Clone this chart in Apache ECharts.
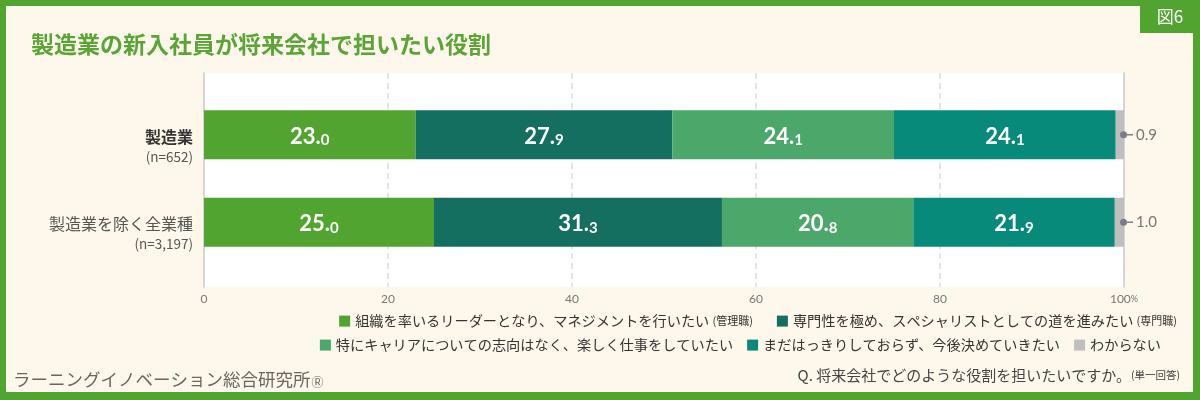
<!DOCTYPE html>
<html>
<head>
<meta charset="utf-8">
<script src="https://cdn.jsdelivr.net/npm/echarts@6/dist/echarts.min.js"></script>
<style>
html,body{margin:0;padding:0;background:#52a431;}
#chart{width:1200px;height:400px;}
</style>
</head>
<body>
<div id="chart"></div>
<script>
const categories = ['製造業', '製造業を除く全業種'];
const sampleSizes = ['(n=652)', '(n=3,197)'];
const seriesNames = [
  '組織を率いるリーダーとなり、マネジメントを行いたい',
  '専門性を極め、スペシャリストとしての道を進みたい',
  '特にキャリアについての志向はなく、楽しく仕事をしていたい',
  'まだはっきりしておらず、今後決めていきたい',
  'わからない'
];
const seriesNotes = ['(管理職)', '(専門職)', '', '', ''];
const manager = [23.0, 25.0];
const specialist = [27.9, 31.3];
const enjoy = [24.1, 20.8];
const undecided = [24.1, 21.9];
const unknown = [0.9, 1.0];
const xTicks = [0, 20, 40, 60, 80, 100];
const titleText = '製造業の新入社員が将来会社で担いたい役割';
const figLabel = '図6';
const questionText = 'Q. 将来会社でどのような役割を担いたいですか。';
const questionNote = '(単一回答)';
const sourceText = 'ラーニングイノベーション総合研究所';

const colors = ['#52a431', '#146f60', '#4ba76a', '#088a7b', '#c1bebf'];
const seriesData = [manager, specialist, enjoy, undecided, unknown];

const FONT = '"Noto Sans CJK JP", "Noto Sans", sans-serif';
const NUMFONT = 'Lato, "Noto Sans", sans-serif';

const chart = echarts.init(document.getElementById('chart'), null, {renderer: 'canvas'});

const plotLeft = 204, plotRight = 76;

const valueLabel = {
  show: true,
  position: 'inside',
  formatter: p => {
    const s = p.value.toFixed(1).split('.');
    return '{i|' + s[0] + '}{p|.}{d|' + s[1] + '}';
  },
  rich: {
    i: {fontSize: 22, fontWeight: 'bold', color: '#fff', fontFamily: NUMFONT, lineHeight: 26, verticalAlign: 'bottom'},
    p: {fontSize: 22, fontWeight: 'bold', color: '#fff', fontFamily: NUMFONT, lineHeight: 26, verticalAlign: 'bottom'},
    d: {fontSize: 15, fontWeight: 'bold', color: '#fff', fontFamily: NUMFONT, lineHeight: 19, verticalAlign: 'bottom'}
  }
};

const unknownLabel = {
  show: true,
  position: 'right',
  distance: -4,
  formatter: p => '{dot|}{ln|}{v|' + p.value.toFixed(1) + '}',
  rich: {
    dot: {width: 7, height: 7, borderRadius: 3.5, backgroundColor: '#7c7c88'},
    ln: {width: 6, height: 1.5, backgroundColor: '#7c7c88'},
    v: {fontSize: 15, color: '#777', fontFamily: NUMFONT, padding: [0, 0, 0, 3]}
  }
};

const series = seriesNames.map((name, k) => ({
  name: name,
  type: 'bar',
  stack: 'total',
  xAxisIndex: 1,
  yAxisIndex: 2,
  barWidth: 49,
  itemStyle: {color: colors[k]},
  label: k === 4 ? unknownLabel : valueLabel,
  emphasis: {disabled: true},
  data: seriesData[k]
}));

const legendFormatter = name => {
  const idx = seriesNames.indexOf(name);
  return seriesNotes[idx] ? name + ' {s|' + seriesNotes[idx] + '}' : name;
};
const legendText = {
  fontSize: 14.2, color: '#333', fontFamily: FONT,
  rich: {s: {fontSize: 11, color: '#333', fontFamily: FONT}}
};

const option = {
  backgroundColor: '#52a431',
  animation: false,
  textStyle: {fontFamily: FONT},
  title: {
    text: titleText,
    left: 26, top: 28,
    textStyle: {fontSize: 23, fontWeight: 'bold', color: '#5aa536', fontFamily: FONT}
  },
  graphic: [
    {type: 'rect', z: -10, silent: true, shape: {x: 6, y: 6, width: 1187, height: 386}, style: {fill: '#fef8ec'}},
    {type: 'rect', z: -9, silent: true, shape: {x: 1140, y: 0, width: 60, height: 33}, style: {fill: '#52a431'}},
    {type: 'text', z: 10, silent: true, x: 1170, y: 17, style: {text: figLabel, fill: '#fff', fontSize: 17, fontFamily: FONT, align: 'center', verticalAlign: 'middle'}},
    {type: 'text', z: 10, silent: true, x: 1180, y: 375, style: {
      text: '{q|' + questionText + '}{n|' + questionNote + '}',
      align: 'right', verticalAlign: 'middle',
      rich: {q: {fontSize: 15, fill: '#444', fontFamily: FONT}, n: {fontSize: 10.5, fill: '#444', fontFamily: FONT}}
    }},
    {type: 'text', z: 10, silent: true, x: 13, y: 379, style: {
      text: '{s|' + sourceText + '}{r|Ⓡ}',
      align: 'left', verticalAlign: 'middle',
      rich: {s: {fontSize: 17.5, fill: '#6b655e', fontFamily: FONT}, r: {fontSize: 12, fill: '#6b655e', fontFamily: FONT, padding: [6, 0, 0, 1]}}
    }}
  ],
  legend: [
    {
      data: seriesNames.slice(0, 2),
      right: 18, top: 309,
      itemWidth: 11, itemHeight: 11, itemGap: 24, icon: 'rect',
      formatter: legendFormatter, textStyle: legendText,
      selectedMode: false
    },
    {
      data: seriesNames.slice(2),
      right: 34, top: 333,
      itemWidth: 11, itemHeight: 11, itemGap: 14, icon: 'rect',
      formatter: legendFormatter, textStyle: legendText,
      selectedMode: false
    }
  ],
  grid: [
    {left: plotLeft, right: plotRight, top: 73, bottom: 113, show: true, backgroundColor: '#ffffff', borderWidth: 0},
    {left: plotLeft, right: plotRight, top: 91, height: 175}
  ],
  xAxis: [
    {
      type: 'value', gridIndex: 0, min: xTicks[0], max: xTicks[xTicks.length - 1], interval: 20,
      axisLine: {show: false}, axisTick: {show: false},
      axisLabel: {
        margin: 6, color: '#777', fontSize: 12, fontFamily: NUMFONT,
        formatter: v => v === 100 ? '{n|100}{p|%}' : String(v),
        rich: {n: {fontSize: 12, color: '#777', fontFamily: NUMFONT}, p: {fontSize: 9, color: '#777', fontFamily: NUMFONT}}
      },
      splitLine: {show: true, showMinLine: false, showMaxLine: false, lineStyle: {color: '#dcdcdc', type: [6, 4], width: 1.5}}
    },
    {type: 'value', gridIndex: 1, min: 0, max: 100, show: false}
  ],
  yAxis: [
    {type: 'category', gridIndex: 0, data: [''], position: 'left', axisLine: {show: true, lineStyle: {color: '#c8c8c8', width: 1.5}}, axisTick: {show: false}, axisLabel: {show: false}},
    {type: 'category', gridIndex: 0, data: [''], position: 'right', axisLine: {show: true, lineStyle: {color: '#c8c8c8', width: 1.5}}, axisTick: {show: false}, axisLabel: {show: false}},
    {
      type: 'category', gridIndex: 1, data: categories, inverse: true,
      axisLine: {show: false}, axisTick: {show: false},
      axisLabel: {
        margin: 11, align: 'right', padding: [22, 0, 0, 0],
        formatter: (v, i) => (i === 0 ? '{a|' + v + '}' : '{b|' + v + '}') + '\n{n|' + sampleSizes[i] + '}',
        rich: {
          a: {fontSize: 16, fontWeight: 'bold', color: '#333', fontFamily: FONT, lineHeight: 22, align: 'right'},
          b: {fontSize: 16, color: '#555', fontFamily: FONT, lineHeight: 22, align: 'right'},
          n: {fontSize: 13.5, color: '#555', fontFamily: FONT, lineHeight: 18, align: 'right'}
        }
      }
    }
  ],
  series: series
};

chart.setOption(option);
</script>
</body>
</html>
